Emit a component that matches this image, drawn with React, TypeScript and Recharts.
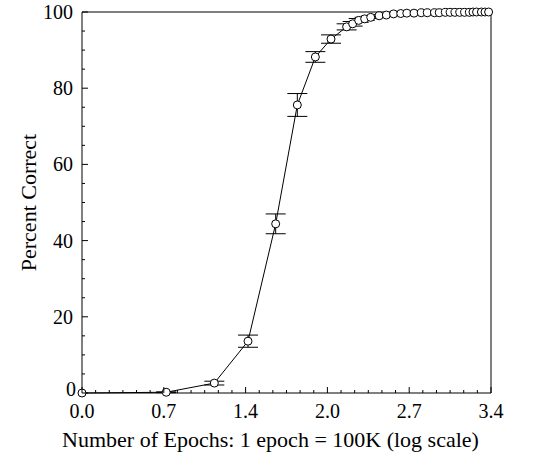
import React from 'react';
import { LineChart, Line, XAxis, YAxis, ErrorBar, ReferenceLine } from 'recharts';

// log10(epochs)
const logEpochs = [
  0.0, 0.7, 1.1, 1.38, 1.61, 1.79, 1.94, 2.07, 2.2, 2.25, 2.3, 2.35, 2.4, 2.47, 2.53,
  2.59, 2.65, 2.7, 2.76, 2.82, 2.87, 2.93, 2.97, 3.02, 3.06, 3.1, 3.14, 3.18, 3.22,
  3.25, 3.28, 3.32, 3.35, 3.38,
];
const percentCorrect = [
  0.0, 0.2, 2.6, 13.6, 44.4, 75.6, 88.2, 92.9, 96.1, 96.9, 97.8, 98.2, 98.6, 99.0, 99.2,
  99.5, 99.6, 99.7, 99.7, 99.8, 99.8, 99.8, 99.8, 99.9, 99.9, 99.9, 99.9, 99.9, 99.9,
  100, 100, 100, 100, 100,
];
const stdErr = [
  0, 0.1, 0.5, 1.6, 2.6, 3.0, 1.4, 1.1, 0.8, 0.6, 0.5, 0.4, 0.3, 0.3, 0.2,
  0, 0, 0, 0, 0, 0, 0, 0, 0, 0, 0, 0, 0, 0,
  0, 0, 0, 0, 0,
];

const xMajorTicks = [0, 0.68, 1.36, 2.04, 2.72, 3.4];
const xTickLabels = ['0.0', '0.7', '1.4', '2.0', '2.7', '3.4'];
const xMinorPerMajor = 6;
const yTicks = [0, 5, 10, 15, 20, 25, 30, 35, 40, 45, 50, 55, 60, 65, 70, 75, 80, 85, 90, 95, 100];

const data = logEpochs.map((x, i) => ({
  x,
  y: percentCorrect[i],
  err: stdErr[i] > 0 ? stdErr[i] : null,
}));

// majors plus minor ticks between them
const xTicks: number[] = [];
xMajorTicks.forEach((t, i) => {
  xTicks.push(t);
  if (i < xMajorTicks.length - 1) {
    const step = (xMajorTicks[i + 1] - t) / xMinorPerMajor;
    for (let k = 1; k < xMinorPerMajor; k++) xTicks.push(t + step * k);
  }
});

const FONT = "'Liberation Serif', 'Times New Roman', serif";
const textStyle = { fontFamily: FONT };

const YTick = (props: any) => {
  const { x, y, payload } = props;
  const v = payload.value;
  const major = v % 20 === 0;
  return (
    <g>
      <line x1={x} x2={x + (major ? 6 : 3)} y1={y} y2={y} stroke="#000" />
      {major && (
        <text x={x - (v === 0 ? 6 : 9)} y={y} dy={v === 0 ? '0.15em' : '0.35em'} textAnchor="end" fontSize={20} style={textStyle} fill="#000">
          {v}
        </text>
      )}
    </g>
  );
};

const XTick = (props: any) => {
  const { x, y, payload } = props;
  const idx = xMajorTicks.findIndex((t) => Math.abs(t - payload.value) < 1e-6);
  const major = idx >= 0;
  return (
    <g>
      <line x1={x} x2={x} y1={y} y2={y - (major ? 6 : 3)} stroke="#000" />
      {major && (
        <text x={x} y={y + 25} textAnchor="middle" fontSize={20} style={textStyle} fill="#000">
          {xTickLabels[idx]}
        </text>
      )}
    </g>
  );
};

export default function App() {
  return (
    <div style={{ position: 'absolute', left: 0, top: 0, background: '#fff' }}>
      <LineChart width={537} height={458} data={data} margin={{ top: 12, right: 46, bottom: 0, left: 0 }}>
        <XAxis
          dataKey="x"
          type="number"
          domain={[0, 3.4]}
          ticks={xTicks}
          interval={0}
          height={65}
          tickSize={0}
          tickMargin={0}
          tickLine={false}
          tick={<XTick />}
          axisLine={{ stroke: '#000' }}
          label={{
            content: ({ viewBox }: any) => (
              <text
                x={viewBox.x + viewBox.width / 2 - 16}
                y={viewBox.y + 54}
                textAnchor="middle"
                fontSize={22}
                style={textStyle}
                fill="#000"
              >
                Number of Epochs: 1 epoch = 100K (log scale)
              </text>
            ),
          }}
        />
        <YAxis
          type="number"
          domain={[0, 100]}
          ticks={yTicks}
          interval={0}
          width={82}
          tickSize={0}
          tickMargin={0}
          tickLine={false}
          tick={<YTick />}
          axisLine={{ stroke: '#000' }}
          label={{
            content: ({ viewBox }: any) => {
              const cx = viewBox.x + 28;
              const cy = viewBox.y + viewBox.height / 2;
              return (
                <text
                  x={cx}
                  y={cy}
                  transform={`rotate(-90 ${cx} ${cy})`}
                  textAnchor="middle"
                  dominantBaseline="central"
                  fontSize={22}
                  style={textStyle}
                  fill="#000"
                >
                  Percent Correct
                </text>
              );
            },
          }}
        />
        <ReferenceLine y={100} stroke="#000" />
        <ReferenceLine x={3.4} stroke="#000" />
        <Line
          dataKey="y"
          stroke="#000"
          strokeWidth={1}
          dot={{ r: 4, fill: '#fff', stroke: '#000', strokeWidth: 1 }}
          isAnimationActive={false}
        >
          <ErrorBar dataKey="err" width={10} stroke="#000" strokeWidth={1} direction="y" />
        </Line>
      </LineChart>
    </div>
  );
}
